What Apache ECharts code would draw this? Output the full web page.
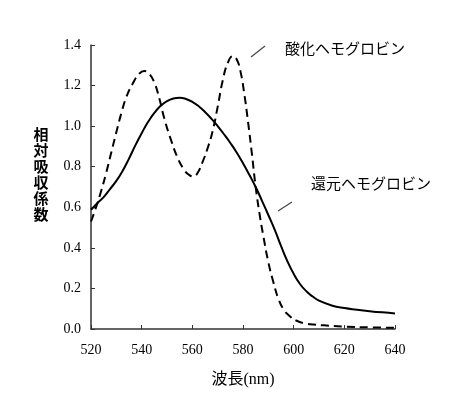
<!DOCTYPE html>
<html><head><meta charset="utf-8">
<script src="https://cdn.jsdelivr.net/npm/echarts@6/dist/echarts.min.js"></script>
<style>html,body{margin:0;padding:0;background:#fff}#c{width:450px;height:394px}</style>
</head><body><div id="c"></div>
<script>
// wavelength (nm) and relative absorption coefficient
const reducedX = [520,522.5,525,527.5,530,532.5,535,537.5,540,542.5,545,547.5,550,552.5,555,557.5,560,562.5,565,567.5,570,572.5,575,577.5,580,582.5,585,587.5,590,592.5,595,597.5,600,602.5,605,607.5,610,615,620,625,630,635,640];
const reducedY = [0.588,0.62,0.65,0.69,0.73,0.78,0.84,0.905,0.965,1.02,1.065,1.10,1.123,1.136,1.14,1.134,1.12,1.098,1.07,1.037,1.00,0.96,0.917,0.87,0.817,0.76,0.70,0.632,0.562,0.49,0.41,0.335,0.272,0.222,0.186,0.16,0.14,0.116,0.103,0.095,0.088,0.082,0.077];
const oxyX = [520,522,524,526,528,530,532,534,536.5,539,541,543,545,547,549,551.5,554,556.5,559,560.5,562,564,566,568,570,572,574,576,577.5,579,580.5,582,583.5,585,586.5,588,590,592,594,596,598.5,601,604,608,612,620,630,640];
const oxyY = [0.53,0.60,0.68,0.77,0.87,0.97,1.065,1.145,1.21,1.258,1.272,1.258,1.215,1.135,1.035,0.935,0.85,0.79,0.757,0.752,0.768,0.822,0.89,0.975,1.095,1.225,1.312,1.345,1.33,1.27,1.16,1.02,0.865,0.70,0.57,0.46,0.33,0.23,0.148,0.097,0.063,0.042,0.029,0.022,0.018,0.012,0.008,0.006];
const xTicks = [520,540,560,580,600,620,640];
const yTicks = [0.0,0.2,0.4,0.6,0.8,1.0,1.2,1.4];
const labelOxy = '酸化ヘモグロビン';
const labelRed = '還元ヘモグロビン';
const yName = '相対吸収係数';
const xName = '波長(nm)';

const chart = echarts.init(document.getElementById('c'));
const serif = 'Liberation Serif, Noto Sans CJK JP';
const cjk = 'Noto Sans CJK JP';
chart.setOption({
  animation:false,
  grid:{left:91,right:55,top:45,bottom:65},
  xAxis:{type:'value',min:xTicks[0],max:xTicks[xTicks.length-1],interval:20,
    name:xName,nameLocation:'middle',nameGap:43,
    nameTextStyle:{fontFamily:serif,fontSize:16,color:'#000'},
    axisLine:{lineStyle:{color:'#333',width:1.5}},
    axisTick:{inside:true,length:4,lineStyle:{color:'#333'}},
    axisLabel:{fontFamily:serif,fontSize:14,color:'#000',margin:14},
    splitLine:{show:false}},
  yAxis:{type:'value',min:yTicks[0],max:yTicks[yTicks.length-1],interval:0.2,
    axisLine:{show:true,lineStyle:{color:'#333',width:1.5}},
    axisTick:{show:true,inside:true,length:4,lineStyle:{color:'#333'}},
    axisLabel:{fontFamily:serif,fontSize:14,color:'#000',margin:10,formatter:v=>v.toFixed(1)},
    splitLine:{show:false}},
  series:[
    {type:'line',data:reducedX.map((x,i)=>[x,reducedY[i]]),smooth:0.5,showSymbol:false,
      lineStyle:{color:'#000',width:2}},
    {type:'line',data:oxyX.map((x,i)=>[x,oxyY[i]]),smooth:0.5,showSymbol:false,
      lineStyle:{color:'#000',width:2,type:[8,5]}}
  ],
  graphic:[
    {type:'text',x:41,y:126,style:{text:yName.split('').join('\n'),font:'bold 15px '+cjk,lineHeight:16,fill:'#000',align:'center',verticalAlign:'top'}},
    {type:'line',shape:{x1:251,y1:57,x2:265,y2:46},style:{stroke:'#444',lineWidth:1.2}},
    {type:'text',left:285,top:41,style:{text:labelOxy,font:'15px '+cjk,fill:'#000'}},
    {type:'line',shape:{x1:278,y1:211,x2:292,y2:202},style:{stroke:'#444',lineWidth:1.2}},
    {type:'text',left:311,top:176,style:{text:labelRed,font:'15px '+cjk,fill:'#000'}}
  ]
});
</script></body></html>
